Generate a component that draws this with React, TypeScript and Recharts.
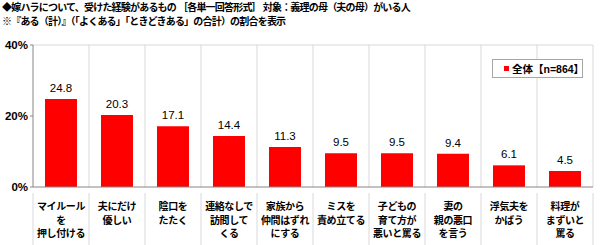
import { BarChart, Bar, XAxis, YAxis, LabelList, Legend, ReferenceLine } from 'recharts';

// 嫁ハラ経験（ある（計））
const CATEGORIES = [
  'マイルール\nを\n押し付ける',
  '夫にだけ\n優しい',
  '陰口を\nたたく',
  '連絡なしで\n訪問して\nくる',
  '家族から\n仲間はずれ\nにする',
  'ミスを\n責め立てる',
  '子どもの\n育て方が\n悪いと罵る',
  '妻の\n親の悪口\nを言う',
  '浮気夫を\nかばう',
  '料理が\nまずいと\n罵る',
];
const VALUES = [24.8, 20.3, 17.1, 14.4, 11.3, 9.5, 9.5, 9.4, 6.1, 4.5];
const SERIES_NAME = '全体【n=864】';
const Y_TICKS = [0, 20, 40];
const TITLE_LINES = [
  '◆嫁ハラについて、受けた経験があるもの ［各単一回答形式］ 対象：義理の母（夫の母）がいる人',
  '※『ある（計）』（「よくある」「ときどきある」の合計）の割合を表示',
];

const data = CATEGORIES.map((name, i) => ({ name, value: VALUES[i] }));

const W = 600;
const H = 245;
const MARGIN = { top: 45, right: 7, left: 0, bottom: 0 };
const Y_AXIS_W = 33;
const HALF_BAND = (W - MARGIN.left - MARGIN.right - Y_AXIS_W) / CATEGORIES.length / 2;

const FONT = '"Liberation Sans", "Noto Sans CJK JP", sans-serif';
const GRID = '#d9d9d9';
const AXIS = '#868686';
const RED = '#ff0000';

const CategoryTick = (props: any) => {
  const { x, y, payload, index } = props;
  const lines = String(payload.value).split('\n');
  const axisY = y - 4;
  return (
    <g>
      <line x1={x + HALF_BAND} x2={x + HALF_BAND} y1={axisY} y2={axisY + 52} stroke={GRID} />
      {index === 0 && (
        <line x1={x - HALF_BAND} x2={x - HALF_BAND} y1={axisY} y2={axisY + 52} stroke={GRID} />
      )}
      <text
        x={x}
        y={y}
        textAnchor="middle"
        fontFamily={FONT}
        fontWeight="bold"
        fontSize={10}
        letterSpacing={-0.4}
        fill="#000"
      >
        {lines.map((l, i) => (
          <tspan key={i} x={x} dy={i === 0 ? 13 : 13.5}>
            {l}
          </tspan>
        ))}
      </text>
    </g>
  );
};

const LegendBox = () => (
  <div
    style={{
      border: '1px solid #a6a6a6',
      background: '#fff',
      height: 19,
      width: 91,
      boxSizing: 'border-box',
      display: 'flex',
      alignItems: 'center',
      paddingLeft: 11,
      fontFamily: FONT,
      fontWeight: 'bold',
      fontSize: 10.5,
      color: '#000',
      whiteSpace: 'nowrap',
    }}
  >
    <span
      style={{ display: 'inline-block', flex: '0 0 5px', width: 5, height: 5, background: RED, marginRight: 3 }}
    />
    <span>{SERIES_NAME}</span>
  </div>
);

export default function App() {
  return (
    <div style={{ position: 'absolute', left: 0, top: 0, width: W, height: H, background: '#fff' }}>
      <div
        style={{
          position: 'absolute',
          left: 2,
          top: 1,
          fontFamily: FONT,
          fontWeight: 'bold',
          fontSize: 10,
          letterSpacing: -0.8,
          lineHeight: '14px',
          whiteSpace: 'nowrap',
          color: '#000',
        }}
      >
        {TITLE_LINES.map((t, i) => (
          <div key={i}>{t}</div>
        ))}
      </div>
      <BarChart width={W} height={H} data={data} margin={MARGIN} barCategoryGap={12}>
        <ReferenceLine y={40} stroke={GRID} />
        {CATEGORIES.map((c) => (
          <ReferenceLine key={c} x={c} position="end" stroke={GRID} />
        ))}
        <XAxis
          dataKey="name"
          interval={0}
          height={58}
          tickLine={false}
          tickMargin={4}
          axisLine={{ stroke: AXIS }}
          tick={<CategoryTick />}
        />
        <YAxis
          width={Y_AXIS_W}
          domain={[0, 40]}
          ticks={Y_TICKS}
          tickFormatter={(v) => `${v}%`}
          tickSize={3}
          tickMargin={2}
          tickLine={{ stroke: AXIS }}
          axisLine={{ stroke: AXIS }}
          tick={{ fontFamily: FONT, fontWeight: 'bold', fontSize: 11.5, fill: '#000' }}
        />
        <Legend
          layout="vertical"
          align="center"
          verticalAlign="middle"
          wrapperStyle={{ top: 59, left: 492, width: 91, height: 19 }}
          content={<LegendBox />}
        />
        <Bar dataKey="value" name={SERIES_NAME} fill={RED} isAnimationActive={false}>
          <LabelList
            dataKey="value"
            position="top"
            offset={7}
            formatter={(v: any) => Number(v).toFixed(1)}
            style={{ fontFamily: FONT, fontSize: 11.5, fill: '#000' }}
          />
        </Bar>
      </BarChart>
    </div>
  );
}
